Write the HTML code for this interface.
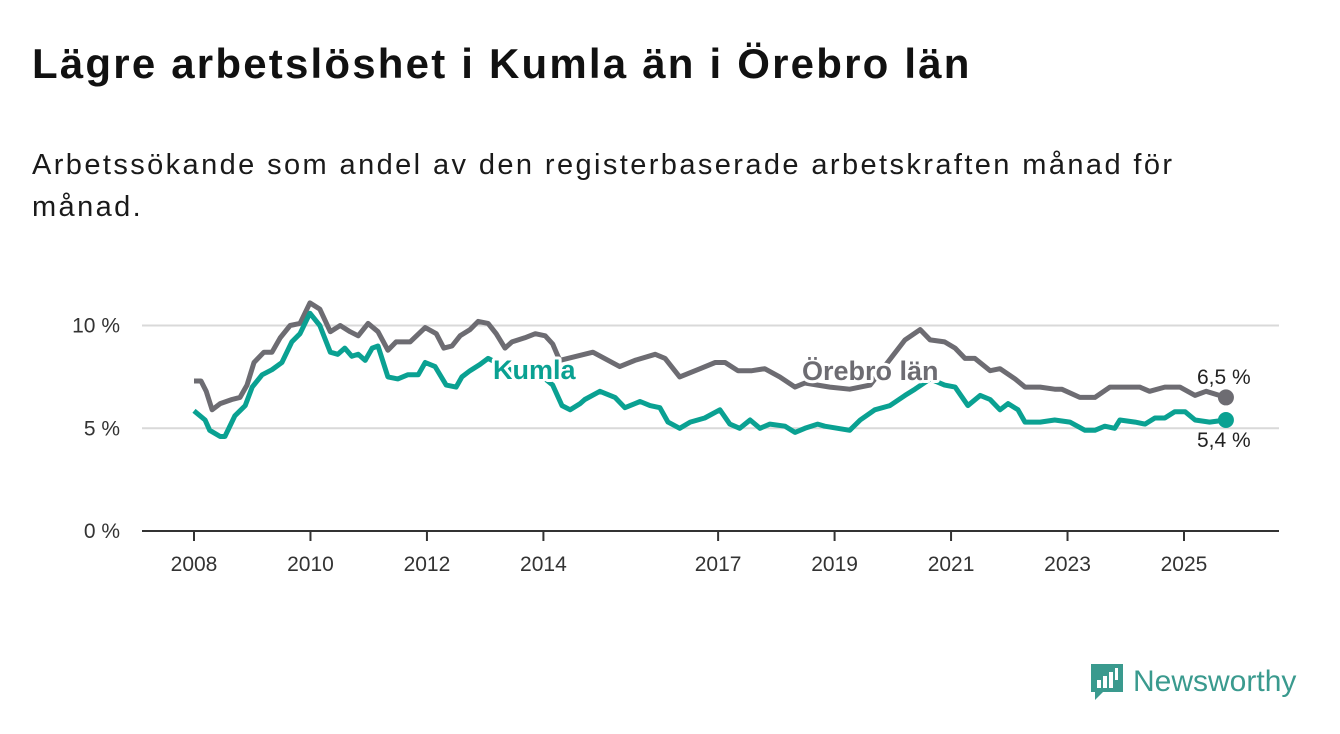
<!DOCTYPE html>
<html><head><meta charset="utf-8"><style>
body{margin:0;width:1340px;height:734px;background:#fff;font-family:"Liberation Sans","DejaVu Sans",sans-serif;overflow:hidden;position:relative}
h1{position:absolute;left:32px;top:40px;margin:0;font-size:42px;font-weight:bold;color:#111;letter-spacing:2.2px}
.sub{position:absolute;left:32px;top:144px;font-size:29px;line-height:42px;color:#1a1a1a;width:1200px;letter-spacing:2.4px}
svg{position:absolute;left:0;top:0}
</style></head><body>
<h1>Lägre arbetslöshet i Kumla än i Örebro län</h1>
<div class="sub">Arbetssökande som andel av den registerbaserade arbetskraften månad för månad.</div>
<svg id="c" width="1340" height="734"></svg>
<div style="position:absolute;left:1089px;top:662px;display:flex;align-items:center">
<svg width="36" height="40" style="position:static"><path d="M2 2h32v28H14l-8 8v-8H2z" fill="#3a9a8e"/><rect x="8" y="18" width="4" height="8" fill="#fff"/><rect x="14" y="14" width="4" height="12" fill="#fff"/><rect x="20" y="10" width="4" height="16" fill="#fff"/><rect x="26" y="6" width="3" height="12" fill="#fff"/></svg>
<span style="font-size:30px;color:#3a9a8e;margin-left:8px;font-weight:500">Newsworthy</span></div>
<script>
const yTicks=[0,5,10];
const xTicks=[2008,2010,2012,2014,2017,2019,2021,2023,2025];
const orebroDates=[2008.00,2008.12,2008.21,2008.31,2008.45,2008.65,2008.79,2008.91,2009.03,2009.20,2009.34,2009.48,2009.65,2009.82,2009.99,2010.16,2010.34,2010.51,2010.68,2010.82,2010.99,2011.16,2011.33,2011.47,2011.71,2011.97,2012.16,2012.29,2012.43,2012.57,2012.74,2012.88,2013.05,2013.19,2013.34,2013.46,2013.68,2013.86,2014.03,2014.16,2014.28,2014.85,2015.31,2015.57,2015.92,2016.09,2016.34,2016.69,2016.95,2017.12,2017.34,2017.58,2017.80,2018.06,2018.32,2018.49,2018.92,2019.26,2019.61,2020.21,2020.47,2020.64,2020.89,2021.07,2021.24,2021.41,2021.67,2021.84,2022.10,2022.27,2022.53,2022.78,2022.90,2023.21,2023.47,2023.73,2023.99,2024.24,2024.41,2024.67,2024.93,2025.19,2025.38,2025.72];
const orebroValues=[7.3,7.3,6.8,5.9,6.2,6.4,6.5,7.1,8.2,8.7,8.7,9.4,10.0,10.1,11.1,10.8,9.7,10.0,9.7,9.5,10.1,9.7,8.8,9.2,9.2,9.9,9.6,8.9,9.0,9.5,9.8,10.2,10.1,9.6,8.9,9.2,9.4,9.6,9.5,9.1,8.3,8.7,8.0,8.3,8.6,8.4,7.5,7.9,8.2,8.2,7.8,7.8,7.9,7.5,7.0,7.2,7.0,6.9,7.1,9.3,9.8,9.3,9.2,8.9,8.4,8.4,7.8,7.9,7.4,7.0,7.0,6.9,6.9,6.5,6.5,7.0,7.0,7.0,6.8,7.0,7.0,6.6,6.8,6.5];
const kumlaDates=[2008.00,2008.19,2008.27,2008.45,2008.53,2008.70,2008.88,2009.00,2009.17,2009.34,2009.51,2009.68,2009.82,2009.99,2010.16,2010.34,2010.47,2010.59,2010.71,2010.82,2010.94,2011.06,2011.16,2011.33,2011.50,2011.67,2011.85,2011.97,2012.14,2012.33,2012.50,2012.60,2012.74,2012.91,2013.05,2013.60,2014.03,2014.16,2014.32,2014.46,2014.63,2014.71,2014.97,2015.23,2015.40,2015.66,2015.83,2016.00,2016.14,2016.34,2016.52,2016.77,2017.03,2017.20,2017.37,2017.55,2017.72,2017.89,2018.15,2018.32,2018.49,2018.71,2018.83,2019.26,2019.44,2019.69,2019.95,2020.21,2020.38,2020.64,2020.89,2021.07,2021.29,2021.50,2021.67,2021.84,2021.98,2022.15,2022.27,2022.53,2022.78,2023.04,2023.30,2023.47,2023.64,2023.81,2023.90,2024.16,2024.33,2024.50,2024.67,2024.84,2025.02,2025.19,2025.44,2025.72];
const kumlaValues=[5.85,5.4,4.9,4.6,4.6,5.6,6.1,7.0,7.6,7.85,8.2,9.2,9.6,10.6,10.0,8.7,8.6,8.9,8.5,8.6,8.3,8.9,9.0,7.5,7.4,7.6,7.6,8.2,8.0,7.1,7.0,7.5,7.8,8.1,8.4,7.6,7.4,7.1,6.1,5.9,6.2,6.4,6.8,6.5,6.0,6.3,6.1,6.0,5.3,5.0,5.3,5.5,5.9,5.2,5.0,5.4,5.0,5.2,5.1,4.8,5.0,5.2,5.1,4.9,5.4,5.9,6.1,6.6,6.9,7.4,7.1,7.0,6.1,6.6,6.4,5.9,6.2,5.9,5.3,5.3,5.4,5.3,4.9,4.9,5.1,5.0,5.4,5.3,5.2,5.5,5.5,5.8,5.8,5.4,5.3,5.4];
const NS="http://www.w3.org/2000/svg",svg=document.getElementById('c');
const X=d=>194+(d-2008)*58.235, Y=v=>531-v*20.55;
function el(t,a,txt){const e=document.createElementNS(NS,t);for(const k in a)e.setAttribute(k,a[k]);if(txt!=null)e.textContent=txt;svg.appendChild(e);return e;}
yTicks.forEach(t=>{
 const l=el('line',{x1:142,x2:1279,y1:Y(t),y2:Y(t),stroke:t===0?'#333':'#d9d9d9','stroke-width':2});
 
 
 const tx=el('text',{x:120,y:Y(t)+7,'text-anchor':'end','font-size':21,fill:'#333'},t+' %');
 
 
});
xTicks.forEach(t=>{
 const l=el('line',{x1:X(t),x2:X(t),y1:531,y2:541,stroke:'#333','stroke-width':2});
 
 
 const tx=el('text',{x:X(t),y:571,'text-anchor':'middle','font-size':21,fill:'#333'},String(t));
 
 
});
function line(d,v,c,name){
 const p=el('path',{d:d.map((x,i)=>(i?'L':'M')+X(x).toFixed(1)+' '+Y(v[i]).toFixed(1)).join(''),fill:'none',stroke:c,'stroke-width':5,'stroke-linejoin':'round'});
 
 
 const n=d.length-1;
 const dot=el('circle',{cx:X(d[n]),cy:Y(v[n]),r:8,fill:c});
 
 
}
line(orebroDates,orebroValues,'#6d6c72','orebro');
line(kumlaDates,kumlaValues,'#0aa192','kumla');
function lab(x,y,t,c,name,sz,bold){
 const a={x:x,y:y,'font-size':sz,fill:c,'font-weight':bold?'bold':'normal',stroke:'#fff','stroke-width':6,'paint-order':'stroke','stroke-linejoin':'round'};
 const e=el('text',a,t);
 
 
}
lab(493,379,'Kumla','#0aa192','kumla-label',27,true);
lab(802,380,'Örebro län','#6d6c72','orebro-label',27,true);
lab(1197,384,'6,5 %','#222','orebro-end-value',21,false);
lab(1197,447,'5,4 %','#222','kumla-end-value',21,false);
</script>
</body></html>
